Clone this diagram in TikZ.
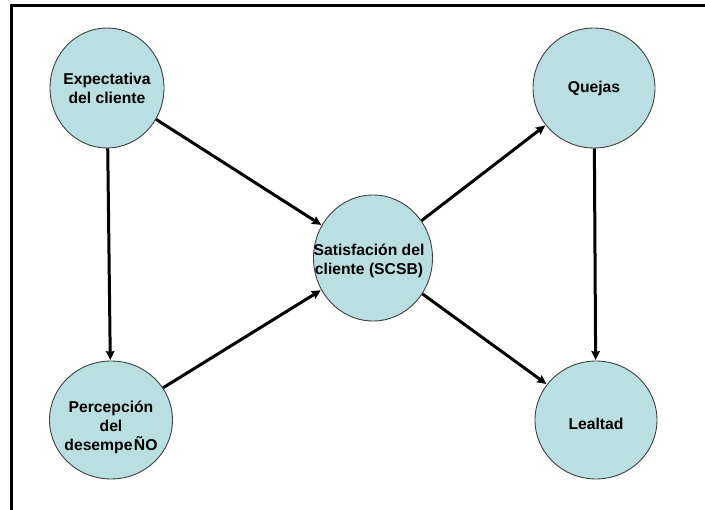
\documentclass[tikz,border=0pt]{standalone}
\usepackage{fontspec}
\setmainfont{Liberation Sans}
\usetikzlibrary{shapes.geometric,arrows.meta}
\definecolor{bubble}{HTML}{B9DFE3}
\tikzset{
  bub/.style={ellipse, draw=black!75, line width=0.9pt, fill=bubble,
    minimum width=122pt, minimum height=120pt, inner sep=0pt},
  lbl/.style={align=center, inner sep=0pt, font=\bfseries\fontsize{15.7}{19}\selectfont},
  conn/.style={line width=3pt, -{Stealth[length=9pt,width=8.5pt,inset=1pt]}, shorten >=0.5pt},
  frameline/.style={line width=3pt}
}
\begin{document}
\begin{tikzpicture}[x=1pt,y=-1pt]
\useasboundingbox (0,0) rectangle (705,510);
\coordinate (fa) at (11,510);
\coordinate (fb) at (11,6);
\coordinate (fc) at (705,6);
\draw[frameline] (fa) -- (fb) -- (fc);
\node[bub, minimum width=114pt] (exp) at (107,88) {};
\node[bub, minimum width=123pt, minimum height=118pt] (per) at (111,420) {};
\node[bub, minimum width=119pt, minimum height=126pt] (sat) at (373,258) {};
\node[bub] (que) at (594,88) {};
\node[bub, minimum height=118pt] (lea) at (596,420) {};
\node[lbl] (expt) at (107,88) {Expectativa\\del cliente};
\node[lbl] (pert) at (111,427) {Percepción\\del\\desempe\kern1.5ptÑO};
\node[lbl] (satt) at (369,261) {Satisfación del\\cliente (SCSB)};
\node[lbl] (quet) at (594,88) {Quejas};
\node[lbl] (leat) at (596,424) {Lealtad};
\draw[conn] (exp) -- (per);
\draw[conn] (exp) -- (sat);
\draw[conn] (per) -- (sat);
\draw[conn] (sat) -- (que);
\draw[conn] (sat) -- (lea);
\draw[conn] (que) -- (lea);
\end{tikzpicture}
\end{document}
